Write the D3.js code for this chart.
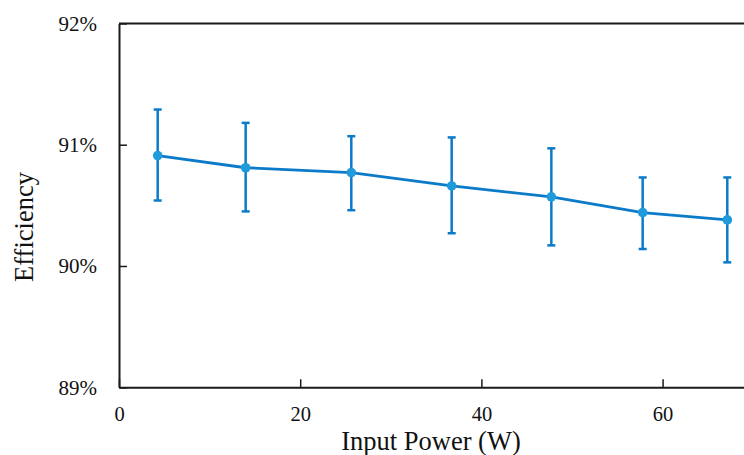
<!DOCTYPE html>
<html>
<head>
<meta charset="utf-8">
<script src="https://cdn.jsdelivr.net/npm/d3@7/dist/d3.min.js"></script>
<style>
  html, body { margin: 0; padding: 0; background: #fff; overflow: hidden; }
  svg { display: block; }
  text { font-family: "Liberation Serif", "Times New Roman", serif; fill: #111; }
</style>
</head>
<body>
<svg id="chart" width="744" height="455"></svg>
<script>
// ---- data ----
const powerW     = [4.27, 13.98, 25.64, 36.72, 47.72, 57.80, 67.14];
const efficiency = [90.91, 90.81, 90.77, 90.66, 90.57, 90.44, 90.38];
const errUpper   = [91.29, 91.18, 91.07, 91.06, 90.97, 90.73, 90.73];
const errLower   = [90.54, 90.45, 90.46, 90.27, 90.17, 90.14, 90.03];
const xTicks = [0, 20, 40, 60];
const yTicks = [89, 90, 91, 92];
const xTitle = "Input Power (W)";
const yTitle = "Efficiency";

const points = powerW.map((p, i) => ({ x: p, y: efficiency[i], lo: errLower[i], hi: errUpper[i] }));

const svg = d3.select("#chart");
const plotLeft = 119, plotTop = 23.4, plotBottom = 387.3;
const x = d3.scaleLinear().domain([0, 70]).range([plotLeft, plotLeft + 70 * 9.06]);
const y = d3.scaleLinear().domain([89, 92]).range([plotBottom, plotTop]);

const lineColor = "#0b7bc9";
const markerColor = "#1f9bdb";
const frameColor = "#1a1a1a";
const fontFam = "'Liberation Serif', 'Times New Roman', serif";

// top frame line
svg.append("line")
  .attr("x1", x(0)).attr("x2", x(70))
  .attr("y1", y(92)).attr("y2", y(92))
  .attr("stroke", frameColor).attr("stroke-width", 2);

// y axis
const yAxis = svg.append("g")
  .attr("transform", `translate(${x(0)},0)`)
  .call(d3.axisLeft(y).tickValues(yTicks).tickFormat(d => d + "%")
    .tickSizeInner(-8).tickSizeOuter(0).tickPadding(22));
yAxis.select(".domain").attr("stroke", frameColor).attr("stroke-width", 2);
yAxis.selectAll(".tick line").attr("stroke", frameColor).attr("stroke-width", 1.5);
yAxis.selectAll("text").attr("font-size", 21).attr("fill", "#111").attr("font-family", fontFam);

// x axis
const xAxis = svg.append("g")
  .attr("transform", `translate(0,${y(89)})`)
  .call(d3.axisBottom(x).tickValues(xTicks).tickFormat(d3.format("d"))
    .tickSizeInner(-8).tickSizeOuter(0).tickPadding(19.5));
xAxis.select(".domain").attr("stroke", frameColor).attr("stroke-width", 2);
xAxis.selectAll(".tick line").attr("stroke", frameColor).attr("stroke-width", 1.5);
xAxis.selectAll("text").attr("font-size", 20.5).attr("fill", "#111").attr("font-family", fontFam);

// axis titles
svg.append("text")
  .attr("x", 431).attr("y", 449.5)
  .attr("text-anchor", "middle")
  .attr("font-size", 26.5)
  .text(xTitle);

svg.append("text")
  .attr("transform", `translate(33,227) rotate(-90)`)
  .attr("text-anchor", "middle")
  .attr("font-size", 26.5)
  .text(yTitle);

// error bars
const eb = svg.append("g").attr("stroke", lineColor).attr("stroke-width", 2.5);
points.forEach(d => {
  eb.append("line").attr("x1", x(d.x)).attr("x2", x(d.x)).attr("y1", y(d.lo)).attr("y2", y(d.hi));
  eb.append("line").attr("x1", x(d.x) - 4).attr("x2", x(d.x) + 4).attr("y1", y(d.lo)).attr("y2", y(d.lo));
  eb.append("line").attr("x1", x(d.x) - 4).attr("x2", x(d.x) + 4).attr("y1", y(d.hi)).attr("y2", y(d.hi));
});

// line
svg.append("path")
  .datum(points)
  .attr("fill", "none")
  .attr("stroke", lineColor)
  .attr("stroke-width", 2.8)
  .attr("d", d3.line().x(d => x(d.x)).y(d => y(d.y)));

// markers
svg.append("g").selectAll("circle")
  .data(points)
  .join("circle")
  .attr("cx", d => x(d.x)).attr("cy", d => y(d.y))
  .attr("r", 4.8)
  .attr("fill", markerColor);
</script>
</body>
</html>
